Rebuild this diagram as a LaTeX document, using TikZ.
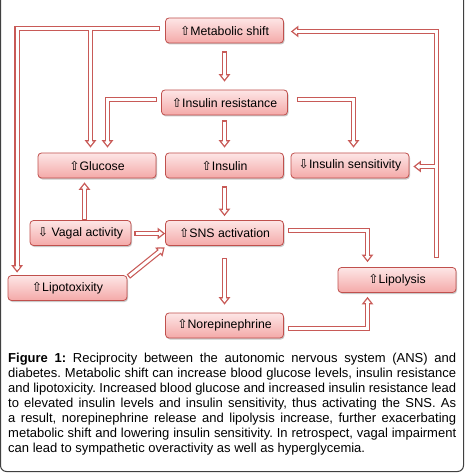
\documentclass[tikz,border=0pt]{standalone}
\usepackage{fontspec}
\setmainfont{Liberation Sans}
\newfontfamily\symfont{DejaVu Sans}
\usetikzlibrary{arrows.meta,shadows,calc}
\definecolor{boxred}{HTML}{C0504D}
\definecolor{arrred}{HTML}{C85A57}
\definecolor{filltop}{HTML}{FDE6E6}
\definecolor{fillbot}{HTML}{F4A9A8}
\newcommand\uarr{{\symfont\char"21E7}}
\newcommand\darr{{\symfont\char"21E9}}
\begin{document}
\frenchspacing
\begin{tikzpicture}[x=1pt,y=-1pt,
  box/.style={draw=boxred, line width=0.8pt, rounded corners=3.5pt,
    top color=filltop, bottom color=fillbot, minimum height=25pt, inner sep=0pt,
    font=\fontsize{12.3}{14}\selectfont,
    drop shadow={shadow xshift=1pt, shadow yshift=-1.5pt, opacity=0.35, fill=black!60}},
  arr/.style={draw=white, line width=3pt, shorten <=1.2pt, shorten >=4pt, -,
    preaction={draw=arrred, line width=5.4pt, shorten <=0pt, shorten >=4pt, -},
    preaction={draw=arrred, line width=1.2pt, shorten <=0pt, shorten >=0pt,
      -{Triangle[width=11.5pt,length=7.5pt,fill=white]}}},
  arrb/.style={arr, shorten <=0pt}]
\useasboundingbox (0,0) rectangle (466,473);
\draw[black!75, line width=1pt, rounded corners=6pt] (0.5,-10) -- (0.5,471.5) -- (463.5,471.5) -- (463.5,-10);

\node[box, minimum width=118pt] (ms) at (224.5,30.5) {\uarr Metabolic shift};
\node[box, minimum width=126pt] (ir) at (224.5,102.5) {\uarr Insulin resistance};
\node[box, minimum width=118pt] (gl) at (97,165.5) {\uarr Glucose};
\node[box, minimum width=118pt] (ins) at (224.5,165.5) {\uarr Insulin};
\node[box, minimum width=118pt] (isens) at (350,165.5) {\darr Insulin sensitivity};
\node[box, minimum width=101pt] (vag) at (80.5,233) {\darr\ Vagal activity};
\node[box, minimum width=118pt] (sns) at (224.5,233) {\uarr SNS activation};
\node[box, minimum width=119pt] (lipo) at (67.5,288) {\uarr Lipotoxixity};
\node[box, minimum width=118pt] (lys) at (397,280) {\uarr Lipolysis};
\node[box, minimum width=118pt] (nor) at (224.5,325.5) {\uarr Norepinephrine};

% metabolic shift -> insulin resistance
\draw[arr] ([yshift=-8pt]ms.south) -- ([yshift=8pt]ir.north);
% metabolic shift -> lipotoxicity (left loop)
\draw[arr] ([xshift=-5pt,yshift=2pt]ms.west) -| ([xshift=9.5pt,yshift=2.5pt]lipo.north west);
% branch to glucose
\coordinate (b1) at (90.5,30);
\draw[arrb] (b1) -- ($(b1 |- gl.north)+(0,-5)$);
% insulin resistance -> glucose
\draw[arr] ([xshift=-4pt,yshift=3pt]ir.west) -| ([xshift=10.5pt,yshift=5pt]gl.north);
% insulin resistance -> insulin
\draw[arr] ([yshift=-5pt]ir.south) -- ([yshift=5pt]ins.north);
% insulin resistance -> insulin sensitivity
\draw[arr] ([xshift=9pt,yshift=3pt]ir.east) -| ([xshift=3.5pt,yshift=5pt]isens.north);
% lipolysis -> metabolic shift (right loop)
\draw[arr] ([xshift=39.5pt,yshift=9pt]lys.north) |- ([xshift=7pt,yshift=-1pt]ms.east);
% branch to insulin sensitivity
\coordinate (b2) at (435,166.5);
\draw[arrb] (b2) -- ($(b2 -| isens.east)+(4,0)$);
% insulin -> SNS
\draw[arr] ([yshift=-8pt]ins.south) -- ([yshift=4pt]sns.north);
% vagal -> glucose
\coordinate (v1) at ([xshift=4pt]vag.north);
\draw[arr] (v1) -- ($(v1 |- gl.south)+(0,4)$);
% vagal -> SNS
\coordinate (v2) at ([xshift=3pt,yshift=-0.5pt]vag.east);
\draw[arr] (v2) -- (v2 -| sns.west);
% lipotoxicity -> SNS
\draw[arr] ([xshift=1pt,yshift=-1.5pt]lipo.north east) -- ([xshift=-0.5pt,yshift=-1.5pt]sns.south west);
% SNS -> lipolysis
\draw[arr] ([xshift=4pt,yshift=2.5pt]sns.east) -| ([xshift=-29.5pt,yshift=5pt]lys.north);
% SNS -> norepinephrine
\draw[arr] ([yshift=-12pt]sns.south) -- ([yshift=8pt]nor.north);
% norepinephrine -> lipolysis
\draw[arr] ([xshift=4pt,yshift=-3pt]nor.east) -| ([xshift=-29.5pt,yshift=-4pt]lys.south);

\node[anchor=north west, text width=448pt, align=justify, inner sep=0pt,
  font=\fontsize{13}{15}\selectfont] (cap) at (8,353)
{\textbf{Figure 1:} Reciprocity between the autonomic nervous system (ANS) and\linebreak
diabetes. Metabolic shift can increase blood glucose levels, insulin resistance\linebreak
and lipotoxicity. Increased blood glucose and increased insulin resistance lead\linebreak
to elevated insulin levels and insulin sensitivity, thus activating the SNS. As\linebreak
a result, norepinephrine release and lipolysis increase, further exacerbating\linebreak
metabolic shift and lowering insulin sensitivity. In retrospect, vagal impairment\linebreak
can lead to sympathetic overactivity as well as hyperglycemia.};
\end{tikzpicture}
\end{document}
